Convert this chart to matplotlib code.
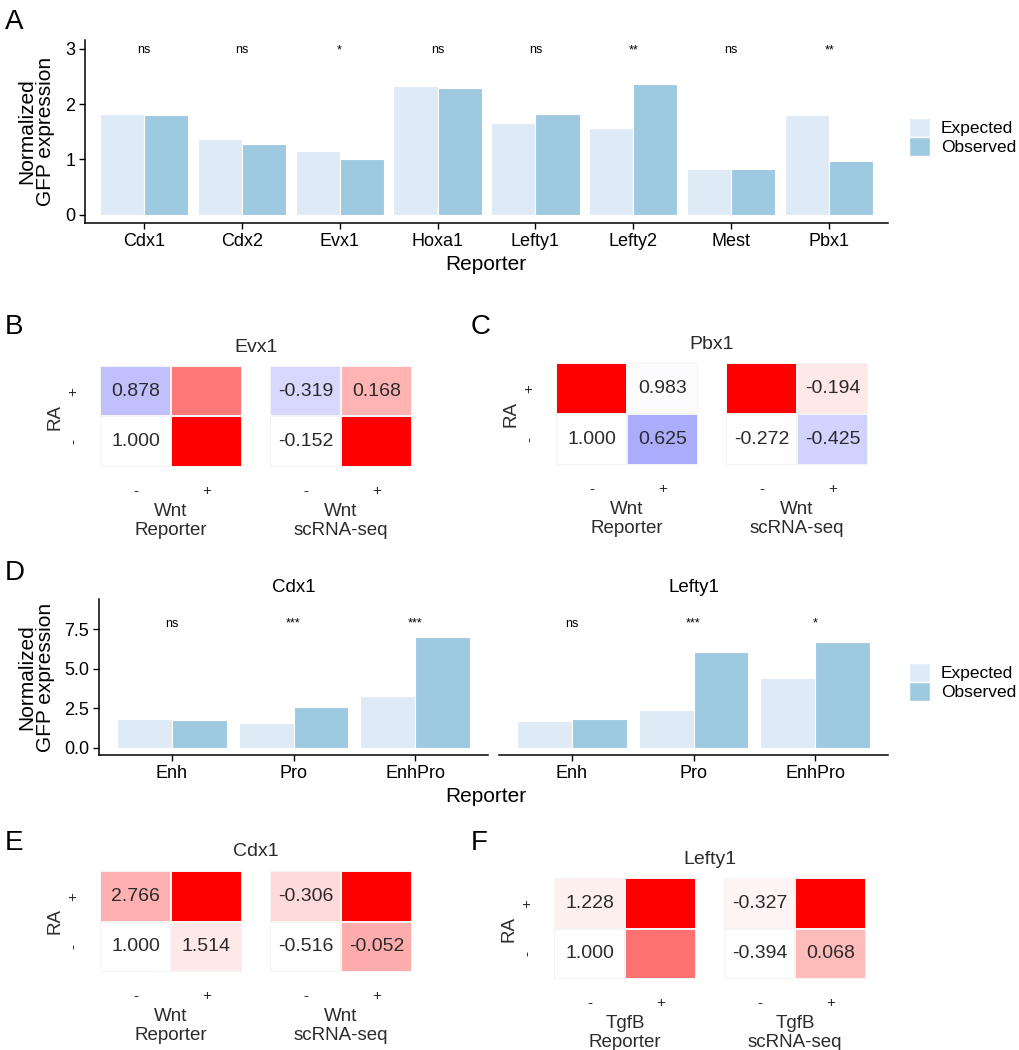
import numpy as np
import matplotlib
matplotlib.use("Agg")
from matplotlib import pyplot as plt
from matplotlib.colors import LinearSegmentedColormap, Normalize
from matplotlib.patches import Patch

plt.rcParams['font.family'] = ['Liberation Sans', 'DejaVu Sans']

# ---- data ----
# panel A
genes_a = ["Cdx1", "Cdx2", "Evx1", "Hoxa1", "Lefty1", "Lefty2", "Mest", "Pbx1"]
expected_a = [1.82, 1.37, 1.16, 2.33, 1.65, 1.56, 0.83, 1.80]
observed_a = [1.80, 1.27, 1.00, 2.29, 1.83, 2.37, 0.83, 0.98]
signif_a = ["ns", "ns", "*", "ns", "ns", "**", "ns", "**"]

# panel D
constructs = ["Enh", "Pro", "EnhPro"]
facets_d = ["Cdx1", "Lefty1"]
expected_d = [[1.82, 1.56, 3.28], [1.69, 2.39, 4.40]]
observed_d = [[1.78, 2.56, 7.04], [1.82, 6.09, 6.68]]
signif_d = [["ns", "***", "***"], ["ns", "***", "*"]]

# heatmaps: rows RA +, RA - ; cols signal -, +
heat_titles = ["Evx1", "Pbx1", "Cdx1", "Lefty1"]
heat_signal = ["Wnt", "Wnt", "Wnt", "TgfB"]
heat_reporter = [[[0.878, 1.26], [1.000, 1.49]],
                 [[2.17, 0.983], [1.000, 0.625]],
                 [[2.766, 6.70], [1.000, 1.514]],
                 [[1.228, 4.80], [1.000, 3.10]]]
heat_scrna = [[[-0.319, 0.168], [-0.152, 0.95]],
              [[0.60, -0.194], [-0.272, -0.425]],
              [[-0.306, 0.93], [-0.516, -0.052]],
              [[-0.327, 1.30], [-0.394, 0.068]]]
# which cells have a printed number
shown_reporter = [[[1, 0], [1, 0]], [[0, 1], [1, 1]], [[1, 0], [1, 1]], [[1, 0], [1, 0]]]
shown_scrna = [[[1, 1], [1, 0]], [[0, 1], [1, 1]], [[1, 0], [1, 1]], [[1, 0], [1, 1]]]

col_exp = "#deebf7"
col_obs = "#9ecae1"
W, H = 1019, 1050
fig = plt.figure(figsize=(W / 100, H / 100), dpi=100)


def rect(l, t, r, b):
    return [l / W, 1 - b / H, (r - l) / W, (b - t) / H]


def style_bar_ax(ax):
    for s in ["top", "right"]:
        ax.spines[s].set_visible(False)
    ax.spines["left"].set_linewidth(1.1)
    ax.spines["bottom"].set_linewidth(1.1)
    ax.tick_params(labelsize=13, length=4, width=1, colors="black", pad=3)


leg_handles = [Patch(facecolor=col_exp, edgecolor="white"), Patch(facecolor=col_obs, edgecolor="white")]


def add_legend(ycenter):
    fig.legend(leg_handles, ["Expected", "Observed"], loc="center left",
               bbox_to_anchor=(909 / W, 1 - ycenter / H), frameon=False, fontsize=12.5,
               handlelength=1.2, handleheight=1.3, labelspacing=0.0, handletextpad=0.65,
               borderpad=0, borderaxespad=0)


# ---- panel A ----
ax = fig.add_axes(rect(85, 40, 888, 223))
x = np.arange(1, len(genes_a) + 1)
ax.bar(x - 0.225, expected_a, 0.45, color=col_exp, edgecolor="white", linewidth=0.8)
ax.bar(x + 0.225, observed_a, 0.45, color=col_obs, edgecolor="white", linewidth=0.8)
for xi, s in zip(x, signif_a):
    ax.text(xi, 2.92, s, ha="center", va="baseline", fontsize=9)
ax.set_xlim(0.4, 8.6)
ax.set_ylim(-0.15, 3.16)
ax.set_xticks(x)
ax.set_xticklabels(genes_a)
ax.set_yticks([0, 1, 2, 3])
style_bar_ax(ax)
fig.text(486 / W, 1 - 265 / H, "Reporter", ha="center", va="center", fontsize=15)
fig.text(36 / W, 1 - 131 / H, "Normalized\nGFP expression", ha="center", va="center",
         rotation=90, fontsize=15, linespacing=1.0)
add_legend(137)

# ---- panel D ----
xd = np.arange(1, 4)
for i, (l, r) in enumerate([(99, 488), (499, 888)]):
    ax = fig.add_axes(rect(l, 599, r, 755))
    ax.bar(xd - 0.225, expected_d[i], 0.45, color=col_exp, edgecolor="white", linewidth=0.8)
    ax.bar(xd + 0.225, observed_d[i], 0.45, color=col_obs, edgecolor="white", linewidth=0.8)
    for xi, s in zip(xd, signif_d[i]):
        ax.text(xi, 7.67, s, ha="center", va="baseline", fontsize=9)
    ax.set_xlim(0.4, 3.6)
    ax.set_ylim(-0.46, 9.42)
    ax.set_xticks(xd)
    ax.set_xticklabels(constructs)
    ax.set_yticks([0, 2.5, 5.0, 7.5])
    ax.set_yticklabels(["0.0", "2.5", "5.0", "7.5"])
    style_bar_ax(ax)
    if i == 1:
        ax.spines["left"].set_visible(False)
        ax.tick_params(axis="y", left=False, labelleft=False)
    ax.set_title(facets_d[i], fontsize=13.5, pad=5)
fig.text(486 / W, 1 - 797 / H, "Reporter", ha="center", va="center", fontsize=15)
fig.text(36 / W, 1 - 677 / H, "Normalized\nGFP expression", ha="center", va="center",
         rotation=90, fontsize=15, linespacing=1.0)
add_legend(682)

# ---- heatmaps ----
cmap = LinearSegmentedColormap.from_list("bwr_ph", ["blue", "white", "red"])
# (left of reporter tile, top, bottom) in pixels
heat_boxes = [(100, 366, 467), (556, 363, 465), (100, 871, 972), (554, 878, 979)]
tile_w, tile_gap = 142, 28
txt_col = "#2b2b2b"


def draw_tile(ax, vals, shown):
    vals = np.array(vals)
    base = vals[1, 0]
    d = np.abs(vals - base).max()
    norm = Normalize(base - d, base + d)
    ax.pcolormesh(np.array([0, 1, 2]), np.array([0, 1, 2]), vals, cmap=cmap, norm=norm,
                  edgecolors="#f4f4f4", linewidth=0.3)
    ax.set_xlim(0, 2)
    ax.set_ylim(2, 0)
    for r in range(2):
        for c in range(2):
            if shown[r][c]:
                ax.text(c + 0.5, r + 0.5, "%.3f" % vals[r, c], ha="center", va="center",
                        fontsize=14, color=txt_col)
    for s in ax.spines.values():
        s.set_visible(False)
    ax.set_xticks([0.5, 1.5])
    ax.set_xticklabels(["-", "+"], fontsize=11, color=txt_col)
    ax.tick_params(axis="x", length=0, pad=12)
    ax.set_yticks([])


for k, (l, t, b) in enumerate(heat_boxes):
    ax1 = fig.add_axes(rect(l, t, l + tile_w, b))
    draw_tile(ax1, heat_reporter[k], shown_reporter[k])
    ax1.set_xlabel(heat_signal[k] + "\nReporter", fontsize=13.5, color=txt_col, labelpad=4,
                   linespacing=1.15)
    ax1.set_yticks([0.5, 1.5])
    ax1.set_yticklabels(["+", "-"], fontsize=11, color=txt_col, rotation=90, va="center")
    ax1.tick_params(axis="y", length=0, pad=14)
    ax1.set_ylabel("RA", fontsize=13.5, color=txt_col, labelpad=2)
    l2 = l + tile_w + tile_gap
    ax2 = fig.add_axes(rect(l2, t, l2 + tile_w, b))
    draw_tile(ax2, heat_scrna[k], shown_scrna[k])
    ax2.set_xlabel(heat_signal[k] + "\nscRNA-seq", fontsize=13.5, color=txt_col, labelpad=4,
                   linespacing=1.15)
    fig.text((l + tile_w + tile_gap / 2) / W, 1 - (t - 19) / H, heat_titles[k],
             ha="center", va="center", fontsize=14, color=txt_col)

# panel letters
for lab, px, py in [("A", 5, 22), ("B", 5, 327), ("C", 471, 327), ("D", 5, 573),
                    ("E", 5, 843), ("F", 471, 843)]:
    fig.text(px / W, 1 - py / H, lab, ha="left", va="center", fontsize=20)

fig.savefig("out.png", dpi=100)
